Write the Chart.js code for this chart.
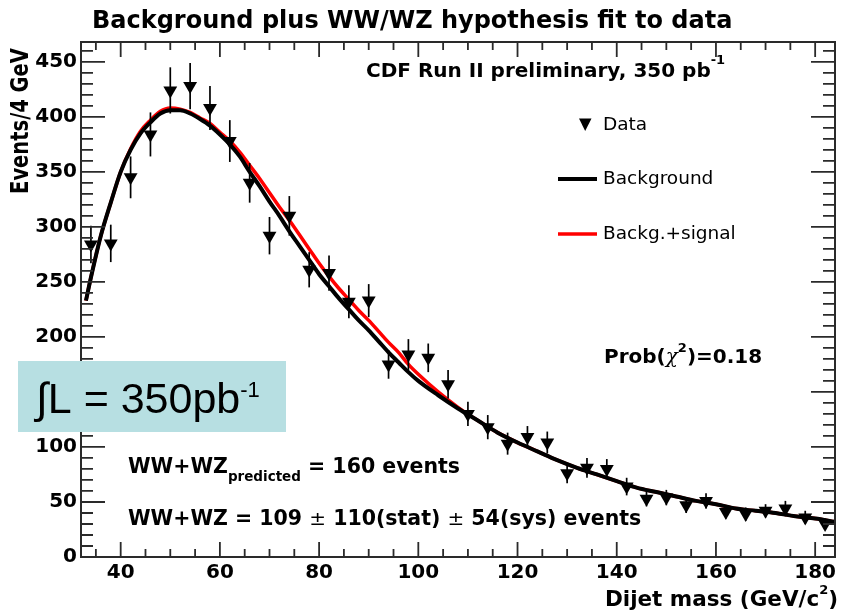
<!DOCTYPE html>
<html>
<head>
<meta charset="utf-8">
<title>Background plus WW/WZ hypothesis fit to data</title>
<script src="https://cdn.jsdelivr.net/npm/chart.js@4.4.1/dist/chart.umd.min.js"></script>
<style>
  html, body { margin: 0; padding: 0; background: #fff; }
  #wrap { width: 843px; height: 614px; }
</style>
</head>
<body>
<div id="wrap"><canvas id="fitChart" width="843" height="614"></canvas></div>
<script>
// dijet mass bin centres (4 GeV bins) with observed counts and stat errors
const massBins = [34, 38, 42, 46, 50, 54, 58, 62, 66, 70, 74, 78, 82, 86, 90, 94, 98, 102, 106,
  110, 114, 118, 122, 126, 130, 134, 138, 142, 146, 150, 154, 158, 162, 166, 170, 174, 178, 182];
const dataCounts = [284, 285, 345, 384, 424, 428, 408, 378, 340, 292, 310, 261, 258, 232, 233, 175, 184, 181, 157,
  130, 118, 103, 109, 104, 76, 81, 80, 64, 53, 54, 47, 51, 41, 39, 42, 44, 36, 30];
const dataErrors = [17, 17, 19, 20, 21, 21, 20, 19, 18, 17, 18, 16, 16, 15, 15, 13, 14, 13, 13,
  11, 11, 10, 10, 10, 9, 9, 9, 8, 7, 7, 7, 7, 6, 6, 6, 7, 6, 5];

// fitted curves, sampled along the mass axis
const fitMass = [33, 34, 36, 38, 40, 42, 44, 46, 48, 50, 52, 54, 56, 58, 60, 62, 64, 66, 68, 70,
  72, 74, 76, 78, 80, 82, 84, 86, 88, 90, 92, 94, 96, 98, 100, 104, 108, 112, 116, 120,
  124, 128, 132, 136, 140, 144, 148, 152, 156, 160, 164, 168, 172, 176, 180, 184];
const bkgFit = [233, 254, 292, 322, 350, 370, 385, 395, 403, 406, 406, 403, 398, 392, 384, 375, 364, 350, 337, 323,
  310, 296, 283, 270, 257, 246, 235, 225, 215, 206, 196, 186, 177, 168, 160, 147, 135, 124, 113, 104,
  96, 88, 81, 75, 69, 63, 59, 55, 51, 48, 44, 42, 40, 37, 35, 32];
const sigFit = [233, 254, 292, 322, 350, 371, 387, 397, 405, 408, 407, 404, 399, 394, 386, 378, 368, 356, 344, 331,
  318, 306, 293, 280, 267, 255, 244, 234, 224, 215, 205, 195, 186, 175, 166, 150, 136, 124, 113, 104,
  96, 88, 81, 75, 69, 63, 59, 55, 51, 48, 44, 42, 40, 37, 35, 32];

const xTickLabels = [40, 60, 80, 100, 120, 140, 160, 180];
const yTickLabels = [0, 50, 100, 150, 200, 250, 300, 350, 400, 450];

const toPoints = (xs, ys) => xs.map((x, i) => ({ x: x, y: ys[i] }));
const bold = size => 'bold ' + size + 'px "DejaVu Sans"';

// draws a run of text pieces with different fonts / vertical offsets
function drawRich(ctx, parts, x, y, align) {
    let total = 0;
    parts.forEach(p => {
        ctx.font = p.font;
        p.w = ctx.measureText(p.text).width;
        total += p.w;
    });
    let cx = align === 'right' ? x - total : x;
    parts.forEach(p => {
        ctx.font = p.font;
        ctx.fillText(p.text, cx, y + (p.dy || 0));
        cx += p.w;
    });
}

const errorBars = {
    id: 'errorBars',
    afterDatasetsDraw(chart) {
        const { ctx, scales: { x, y } } = chart;
        ctx.save();
        ctx.strokeStyle = '#000';
        ctx.lineWidth = 1.7;
        massBins.forEach((m, i) => {
            const px = x.getPixelForValue(m);
            ctx.beginPath();
            ctx.moveTo(px, y.getPixelForValue(dataCounts[i] + dataErrors[i]));
            ctx.lineTo(px, y.getPixelForValue(dataCounts[i] - dataErrors[i]));
            ctx.stroke();
        });
        ctx.restore();
    }
};

// frame with inward ticks on all four sides
const frameTicks = {
    id: 'frameTicks',
    afterDraw(chart) {
        const { ctx, chartArea: a, scales: { x, y } } = chart;
        ctx.save();
        ctx.strokeStyle = '#2a2a2a';
        ctx.lineWidth = 1.8;
        ctx.beginPath();
        for (let v = 35; v <= 184; v += 5) {
            const px = x.getPixelForValue(v);
            const len = v % 20 === 0 ? 15 : 8;
            ctx.moveTo(px, a.bottom); ctx.lineTo(px, a.bottom - len);
            ctx.moveTo(px, a.top); ctx.lineTo(px, a.top + len);
        }
        for (let v = 0; v <= 468; v += 10) {
            const py = y.getPixelForValue(v);
            const len = v % 50 === 0 ? 24 : 12;
            ctx.moveTo(a.left, py); ctx.lineTo(a.left + len, py);
            ctx.moveTo(a.right, py); ctx.lineTo(a.right - len, py);
        }
        ctx.stroke();
        ctx.lineWidth = 2;
        ctx.strokeRect(a.left, a.top, a.right - a.left, a.bottom - a.top);
        ctx.restore();
    }
};

const annotations = {
    id: 'annotations',
    afterDraw(chart) {
        const ctx = chart.ctx;
        ctx.save();
        ctx.fillStyle = '#000';
        ctx.textAlign = 'left';
        ctx.textBaseline = 'alphabetic';

        drawRich(ctx, [{ text: 'Background plus WW/WZ hypothesis fit to data', font: bold(24) }], 92, 28);

        drawRich(ctx, [
            { text: 'CDF Run II preliminary, 350 pb', font: bold(20) },
            { text: '-1', font: bold(13), dy: -13 }
        ], 366, 77);

        // axis titles
        drawRich(ctx, [
            { text: 'Dijet mass (GeV/c', font: bold(21.5) },
            { text: '2', font: bold(13), dy: -12 },
            { text: ')', font: bold(21.5) }
        ], 838, 606, 'right');

        ctx.save();
        ctx.translate(21, 121);
        ctx.rotate(-Math.PI / 2);
        ctx.scale(1, 1.3);
        ctx.font = bold(19.5);
        ctx.textAlign = 'center';
        ctx.textBaseline = 'middle';
        ctx.fillText('Events/4 GeV', 0, 0);
        ctx.restore();

        // legend
        ctx.beginPath();
        ctx.moveTo(579, 118.5);
        ctx.lineTo(591.5, 118.5);
        ctx.lineTo(585.2, 131);
        ctx.closePath();
        ctx.fill();
        ctx.lineCap = 'butt';
        ctx.strokeStyle = '#000';
        ctx.lineWidth = 4;
        ctx.beginPath(); ctx.moveTo(558, 179); ctx.lineTo(597, 179); ctx.stroke();
        ctx.strokeStyle = '#f00';
        ctx.lineWidth = 3.5;
        ctx.beginPath(); ctx.moveTo(558, 234); ctx.lineTo(597, 234); ctx.stroke();
        ctx.font = '18.5px "DejaVu Sans"';
        ctx.textBaseline = 'middle';
        ctx.fillText('Data', 603, 125);
        ctx.fillText('Background', 603, 179);
        ctx.fillText('Backg.+signal', 603, 234);
        ctx.textBaseline = 'alphabetic';

        drawRich(ctx, [
            { text: 'Prob(', font: bold(20) },
            { text: 'χ', font: 'italic 20px "DejaVu Serif"' },
            { text: '2', font: bold(13), dy: -11 },
            { text: ')=0.18', font: bold(20) }
        ], 604, 363);

        drawRich(ctx, [
            { text: 'WW+WZ', font: bold(20.5) },
            { text: 'predicted', font: bold(13.5), dy: 8 },
            { text: ' = 160 events', font: bold(20.5) }
        ], 128, 473);

        drawRich(ctx, [
            { text: 'WW+WZ = 109 ', font: bold(20.5) },
            { text: '±', font: '20px "DejaVu Sans"' },
            { text: ' 110(stat) ', font: bold(20.5) },
            { text: '±', font: '20px "DejaVu Sans"' },
            { text: ' 54(sys) events', font: bold(20.5) }
        ], 128, 525);

        // luminosity box
        ctx.fillStyle = '#b7dfe2';
        ctx.fillRect(18, 361, 268, 71);
        ctx.fillStyle = '#000';
        drawRich(ctx, [
            { text: '∫L = 350pb', font: '43px "Liberation Sans"' },
            { text: '-1', font: '22px "Liberation Sans"', dy: -16 }
        ], 36, 413);

        ctx.restore();
    }
};

const tickFont = { family: 'DejaVu Sans', size: 20, weight: 'bold' };

new Chart(document.getElementById('fitChart').getContext('2d'), {
    type: 'scatter',
    data: {
        datasets: [
            {
                label: 'Data',
                data: toPoints(massBins, dataCounts),
                pointStyle: 'triangle',
                rotation: 180,
                pointRadius: 8,
                pointHoverRadius: 8,
                backgroundColor: '#000',
                borderColor: '#000',
                borderWidth: 0,
                showLine: false,
                order: 0
            },
            {
                label: 'Background',
                data: toPoints(fitMass, bkgFit),
                showLine: true,
                borderColor: '#000',
                borderWidth: 4,
                pointRadius: 0,
                cubicInterpolationMode: 'monotone',
                order: 1
            },
            {
                label: 'Backg.+signal',
                data: toPoints(fitMass, sigFit),
                showLine: true,
                borderColor: '#f00',
                borderWidth: 3.5,
                pointRadius: 0,
                cubicInterpolationMode: 'monotone',
                order: 2
            }
        ]
    },
    options: {
        responsive: false,
        animation: false,
        devicePixelRatio: 1,
        events: [],
        layout: { padding: { left: 0, right: 2, top: 42, bottom: 0 } },
        plugins: {
            legend: { display: false },
            tooltip: { enabled: false }
        },
        scales: {
            x: {
                type: 'linear',
                min: 32,
                max: 184,
                grid: { display: false, drawTicks: false },
                border: { display: false },
                afterBuildTicks: s => { s.ticks = xTickLabels.map(v => ({ value: v })); },
                afterFit: s => { s.height = 57; s.paddingLeft = 0; s.paddingRight = 0; },
                ticks: { color: '#000', font: tickFont, padding: 4, maxRotation: 0, autoSkip: false }
            },
            y: {
                type: 'linear',
                min: 0,
                max: 468,
                grid: { display: false, drawTicks: false },
                border: { display: false },
                afterBuildTicks: s => { s.ticks = yTickLabels.map(v => ({ value: v })); },
                afterFit: s => { s.width = 81; s.paddingTop = 0; s.paddingBottom = 0; },
                ticks: { color: '#000', font: tickFont, padding: 4, autoSkip: false }
            }
        }
    },
    plugins: [errorBars, frameTicks, annotations]
});
</script>
</body>
</html>
